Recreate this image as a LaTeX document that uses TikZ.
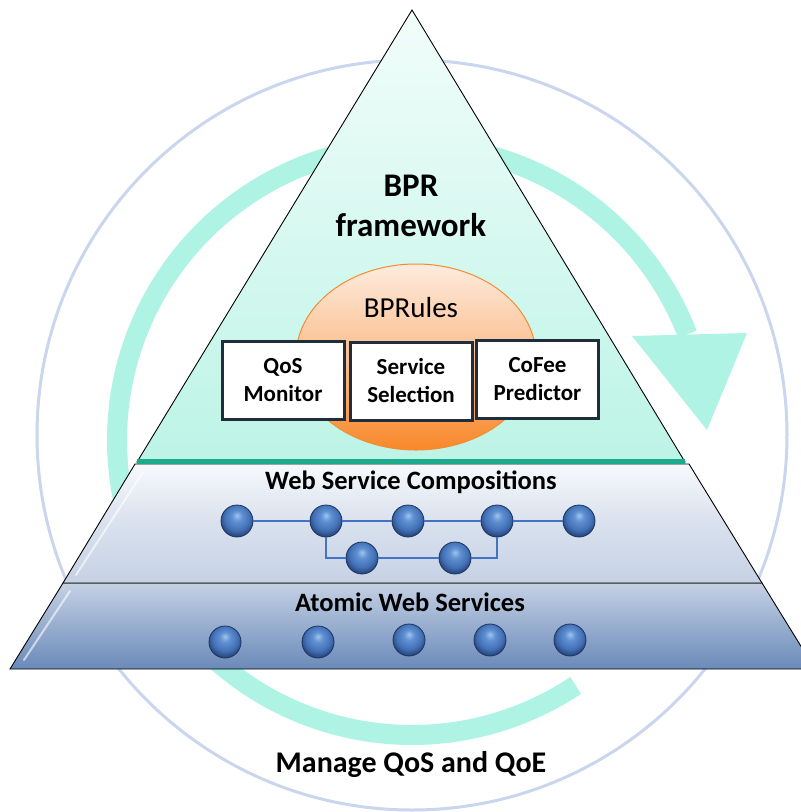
\documentclass[tikz,border=0pt]{standalone}
\usepackage{fontspec}
\setmainfont{Carlito}
\definecolor{ringblue}{RGB}{201,214,238}
\definecolor{mint}{RGB}{174,243,228}
\definecolor{minttop}{RGB}{242,253,250}
\definecolor{mintbot}{RGB}{188,244,230}
\definecolor{tealline}{RGB}{26,172,138}
\definecolor{bandtop}{RGB}{247,249,252}
\definecolor{bandmid}{RGB}{197,209,228}
\definecolor{banddeep}{RGB}{106,138,185}
\definecolor{svcA}{RGB}{160,196,238}
\definecolor{svcB}{RGB}{96,145,210}
\definecolor{svcC}{RGB}{66,112,182}
\definecolor{svcD}{RGB}{28,52,96}
\definecolor{linkblue}{RGB}{68,114,196}
\definecolor{boxedge}{RGB}{31,45,61}
\definecolor{orangetop}{RGB}{253,235,222}
\definecolor{orangemid}{RGB}{251,190,140}
\definecolor{orangebot}{RGB}{249,136,42}
\definecolor{orangeedge}{RGB}{245,140,50}
% glossy sphere: light spot above centre, dark rim below
\pgfdeclareradialshading{svcball}{\pgfpoint{0bp}{9bp}}{%
  color(0bp)=(svcA); color(8bp)=(svcB); color(20bp)=(svcC);
  color(31bp)=(svcD); color(50bp)=(svcD)}
\begin{document}
\begin{tikzpicture}[x=1pt,y=-1pt,
  svc/.style={circle, minimum size=32pt, inner sep=0pt, shading=svcball,
              draw=svcD, line width=0.8pt},
  link/.style={draw=linkblue, line width=2pt},
  module/.style={draw=boxedge, line width=3pt, fill=white, align=center,
                 minimum width=122pt, minimum height=78pt, inner sep=2pt,
                 font=\bfseries\fontsize{23}{28}\selectfont},
  layertitle/.style={anchor=base, font=\bfseries\fontsize{26.5}{31}\selectfont},
  edge/.style={draw=black, line width=0.9pt},
  bevel/.style={draw=white, line width=2pt, opacity=0.6, line cap=round}]
\useasboundingbox (0,0) rectangle (801,812);

% outer thin ring
\draw[ringblue, line width=3pt] (412,435) circle[radius=375pt];

% cycle arrow behind the pyramid
\draw[mint, line width=20pt]
  plot[domain=21:303.7, samples=150] ({412+295*cos(\x)},{440-295*sin(\x)});
\fill[mint] (632,336) -- (747,333) -- (707,430) -- cycle;

% pyramid: lower band
\path[edge, top color=bandmid, bottom color=banddeep]
  (63,583) -- (762,583) -- (815,669) -- (10,669) -- cycle;
\draw[bevel] (70,591) -- (24,660);

% pyramid: middle band
\path[edge, top color=bandtop, bottom color=bandmid, middle color=bandmid!60!bandtop]
  (135,464) -- (689,464) -- (762,583) -- (63,583) -- cycle;
\draw[bevel] (143,472) -- (76,575);

% pyramid: top triangle
\path[edge, top color=minttop, bottom color=mintbot]
  (412,10) -- (685,462) -- (137,462) -- cycle;
\draw[tealline, line width=5pt] (137,461.5) -- (685,461.5);

% rule engine
\path[draw=orangeedge, line width=1pt, top color=orangetop, bottom color=orangebot,
      middle color=orangemid]
  (416,357) circle[x radius=120pt, y radius=93pt];
\node[anchor=base, font=\fontsize{29}{34}\selectfont] (rules) at (411,317) {BPRules};

\node[align=center, font=\bfseries\fontsize{33}{40}\selectfont] (bpr) at (411,206)
  {BPR\\framework};

% framework modules
\node[module] (qos) at (283,380) {QoS\\Monitor};
\node[module] (sel) at (411,381) {Service\\Selection};
\node[module] (cof) at (537.5,379) {CoFee\\Predictor};

% composition layer
\node[layertitle] (wsc) at (411,489) {Web Service Compositions};
\node[svc] (c1) at (237,521) {};
\node[svc] (c2) at (326,521) {};
\node[svc] (c3) at (408,521) {};
\node[svc] (c4) at (497,521) {};
\node[svc] (c5) at (579,521) {};
\node[svc] (d1) at (362,558) {};
\node[svc] (d2) at (455,558) {};
\draw[link] (c1) -- (c2);
\draw[link] (c2) -- (c3);
\draw[link] (c3) -- (c4);
\draw[link] (c4) -- (c5);
\draw[link] (c2) |- (d1);
\draw[link] (d1) -- (d2);
\draw[link] (d2) -| (c4);

% atomic layer
\node[layertitle] (aws) at (410,611) {Atomic Web Services};
\node[svc] (a1) at (225,642) {};
\node[svc] (a2) at (318,642) {};
\node[svc] (a3) at (409,640) {};
\node[svc] (a4) at (490,640) {};
\node[svc] (a5) at (570,640) {};

\node[anchor=base, font=\bfseries\fontsize{30}{35}\selectfont] (mgmt) at (411,772)
  {Manage QoS and QoE};
\end{tikzpicture}
\end{document}
